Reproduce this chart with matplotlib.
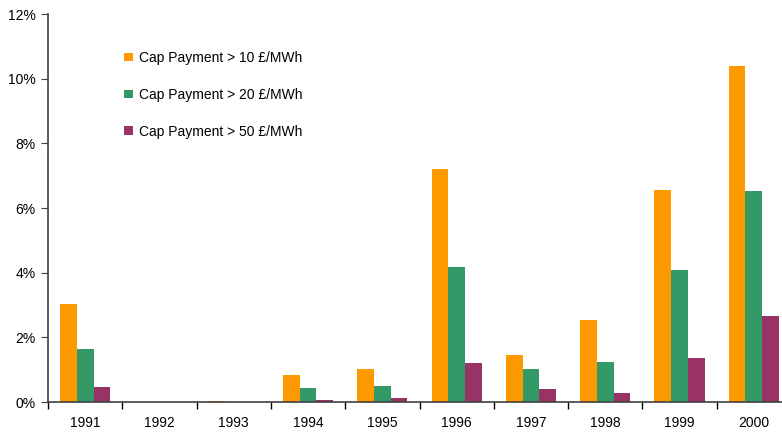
import numpy as np
import matplotlib
matplotlib.use('Agg')
import matplotlib.pyplot as plt

plt.rcParams['font.family'] = ['Liberation Sans', 'DejaVu Sans']

# Datos (en %)
years = ['1991', '1992', '1993', '1994', '1995', '1996', '1997', '1998', '1999', '2000']
cap_10 = [3.03, 0.0, 0.02, 0.84, 1.02, 7.21, 1.45, 2.54, 6.56, 10.39]
cap_20 = [1.64, 0.0, 0.0, 0.43, 0.49, 4.18, 1.02, 1.24, 4.08, 6.53]
cap_50 = [0.46, 0.0, 0.0, 0.06, 0.12, 1.21, 0.40, 0.28, 1.36, 2.66]
labels = ['Cap Payment > 10 £/MWh', 'Cap Payment > 20 £/MWh', 'Cap Payment > 50 £/MWh']
colors = ['#FF9900', '#339966', '#993366']

fig = plt.figure(figsize=(7.82, 4.34), dpi=100)
ax = fig.add_axes([48/782, 32/434, 743/782, 388/434])

x = np.arange(len(years))
w = 0.225
for k, (vals, lab, col) in enumerate(zip([cap_10, cap_20, cap_50], labels, colors)):
    ax.bar(x + (k - 1) * w, vals, width=w, color=col, label=lab, zorder=2)

ax.set_xlim(-0.5, len(years) - 0.5)
ax.set_ylim(0, 12)
ax.set_yticks(np.arange(0, 13, 2))
ax.set_yticklabels([f'{v}%' for v in range(0, 13, 2)])

# ticks en los bordes de categoría, etiquetas en el centro
ax.set_xticks(np.arange(-0.5, len(years), 1.0))
ax.set_xticklabels([])
ax.set_xticks(x, minor=True)
ax.set_xticklabels(years, minor=True)
ax.tick_params(axis='x', which='minor', length=0, pad=10, labelsize=10, colors='#000000')
ax.tick_params(axis='x', which='major', length=5, color='#000000', width=1)
ax.tick_params(axis='y', length=5, color='#404040', labelsize=10, pad=4)

for s in ['top', 'right']:
    ax.spines[s].set_visible(False)
for s in ['left', 'bottom']:
    ax.spines[s].set_color('#404040')
    ax.spines[s].set_linewidth(1.2)
ax.spines['bottom'].set_zorder(3)

leg = ax.legend(loc='upper left', bbox_to_anchor=(0.086, 0.937), frameon=False,
                fontsize=10, handlelength=0.6, handleheight=0.6, handletextpad=0.45,
                labelspacing=1.65)

fig.savefig('out.png', dpi=100)
